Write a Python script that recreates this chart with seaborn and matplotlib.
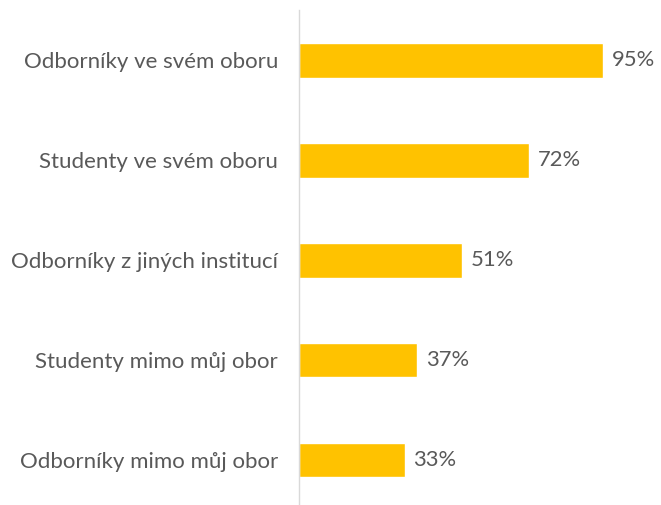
import matplotlib
matplotlib.use("Agg")
import matplotlib.pyplot as plt
import seaborn as sns
import pandas as pd

categories = [
    "Odborníky ve svém oboru",
    "Studenty ve svém oboru",
    "Odborníky z jiných institucí",
    "Studenty mimo můj obor",
    "Odborníky mimo můj obor",
]
values = [95, 72, 51, 37, 33]

BAR_COLOR = "#FFC200"
TEXT_COLOR = "#595959"

sns.set_theme(style="white")
plt.rcParams["font.family"] = ["Lato", "DejaVu Sans"]

df = pd.DataFrame({"category": categories, "value": values})

fig = plt.figure(figsize=(6.61, 5.05), dpi=100)
ax = fig.add_axes([299 / 661, 0.0, 320 / 661, 1 - 10 / 505])

sns.barplot(data=df, x="value", y="category", color=BAR_COLOR,
            width=0.35, saturation=1, ax=ax)

# percentage labels right of each bar
for i, v in enumerate(values):
    ax.text(v + 2.7, i, f"{v}%", va="center", ha="left",
            fontsize=15.8, color=TEXT_COLOR)

ax.set_xlim(0, 100)
ax.set_ylim(4.45, -0.5)
ax.set_xlabel("")
ax.set_ylabel("")
ax.set_xticks([])
ax.tick_params(axis="y", length=0, pad=15, labelsize=16, labelcolor=TEXT_COLOR)

for side in ["top", "right", "bottom"]:
    ax.spines[side].set_visible(False)
ax.spines["left"].set_color("#d9d9d9")
ax.spines["left"].set_linewidth(1)

fig.savefig("out.png", dpi=100)
